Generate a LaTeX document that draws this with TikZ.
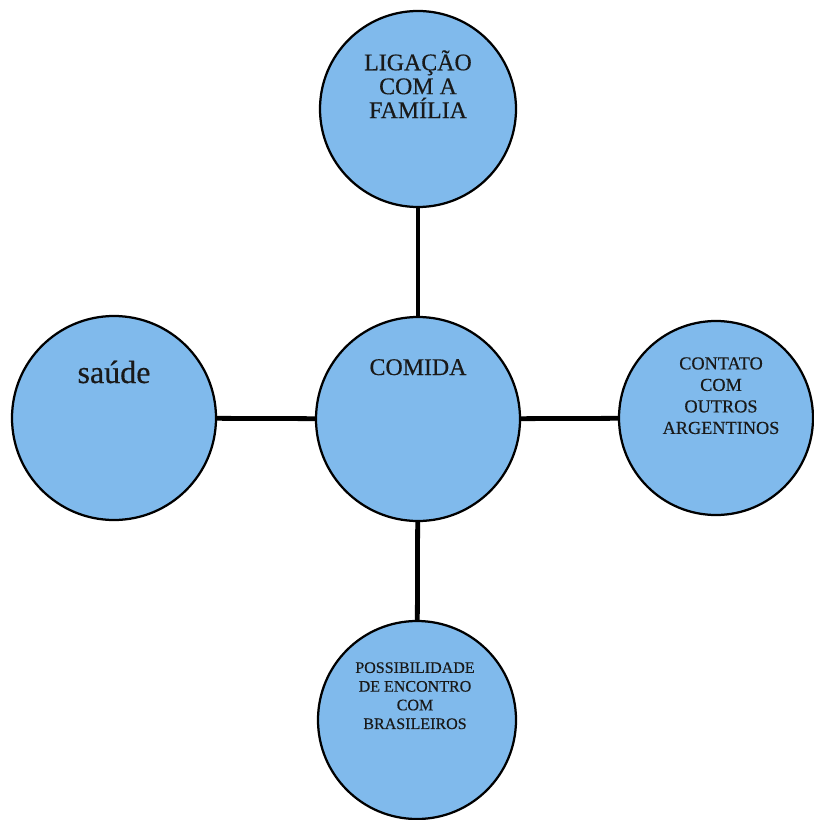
\documentclass[tikz,border=0pt]{standalone}
\usepackage{fontspec}
\setmainfont[FakeBold=0.4]{Liberation Serif}
\usepackage{tikz}
\definecolor{bubblefill}{RGB}{128,186,236}

\begin{document}
\begin{tikzpicture}[
  bubble/.style={circle, draw=black, line width=1.6pt, fill=bubblefill, inner sep=0pt},
  link/.style={line width=3.4pt, black},
  lbl/.style={inner sep=0pt, align=center, text=black!90}
]
\useasboundingbox (0,0) rectangle (20.325,-20.5);

\node[bubble, minimum size=4.9cm]  (famil) at (10.45,-2.725) {};
\node[bubble, minimum size=5.1cm]  (comid) at (10.45,-10.475) {};
\node[bubble, minimum size=5.1cm]  (saude) at (2.85,-10.45) {};
\node[bubble, minimum size=4.85cm] (argen) at (17.9,-10.45) {};
\node[bubble, minimum size=4.95cm]  (brasi) at (10.425,-18.0) {};

\draw[link] (famil) -- (comid);
\draw[link] (comid) -- (saude);
\draw[link] (comid) -- (argen);
\draw[link] (comid) -- (brasi);

\node[lbl, anchor=north, font=\fontsize{17}{17}\selectfont] (tfamil) at (10.45,-1.25) {
  LIGAÇÃO\\COM A\\FAMÍLIA
};
\node[lbl, anchor=base, font=\fontsize{17}{17}\selectfont] (tcomid) at (10.45,-9.375) {COMIDA};
\node[lbl, anchor=base, font=\fontsize{22.8}{23}\selectfont] (tsaude) at (2.85,-9.575) {saúde};
\node[lbl, anchor=north, font=\fontsize{13}{15.3}\selectfont] (targen) at (18.025,-8.925) {
  CONTATO\\COM\\OUTROS\\ARGENTINOS
};
\node[lbl, anchor=north, font=\fontsize{11.4}{13.3}\selectfont] (tbrasi) at (10.375,-16.55) {
  POSSIBILIDADE\\DE ENCONTRO\\COM\\BRASILEIROS
};
\end{tikzpicture}
\end{document}
